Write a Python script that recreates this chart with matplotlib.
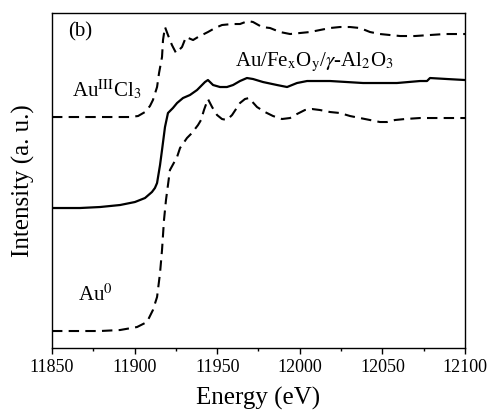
import matplotlib
matplotlib.use("Agg")
from matplotlib import pyplot as plt
from matplotlib.ticker import MultipleLocator

plt.rcParams['font.family'] = ['Liberation Serif', 'DejaVu Serif']
plt.rcParams['mathtext.fontset'] = 'stix'

# Au foil (Au0) reference
e_au0 = [11850, 11879.1, 11891.2, 11901.5, 11907.5, 11911.1, 11913.6, 11915.4, 11916.6,
         11917.8, 11919.0, 11920.2, 11921.4, 11925.7, 11927.5, 11931.7, 11934.7, 11938.4,
         11940.2, 11942.0, 11944.4, 11946.9, 11949.9, 11952.9, 11955.9, 11959.0, 11963.8,
         11966.8, 11969.2, 11974.1, 11978.9, 11983.8, 11989.2, 11994.1, 11998.3, 12003.1,
         12007.4, 12012.2, 12018.3, 12024.3, 12030.4, 12036.4, 12042.5, 12048.5, 12052.8,
         12057.6, 12063.7, 12072.8, 12084.9, 12100]
i_au0 = [17, 17, 18, 21, 26, 38, 51, 75, 98,
         128, 148, 163, 178, 191, 200, 210, 215, 223,
         228, 238, 249, 241, 233, 229, 228, 233, 245,
         249, 250, 241, 236, 232, 229, 230, 234, 238,
         239, 238, 236, 235, 232, 230, 228, 226, 226,
         228, 229, 230, 230, 230]

# Au/FexOy/gamma-Al2O3 sample
e_cat = [11850, 11866.9, 11879.1, 11891.2, 11900.2, 11906.3, 11910.5, 11912.3, 11913.6,
         11915.4, 11916.6, 11918.4, 11920.2, 11923.2, 11925.7, 11929.3, 11933.5, 11937.8,
         11940.8, 11942.6, 11944.4, 11947.5, 11951.7, 11955.9, 11959.6, 11963.8, 11968.0,
         11971.7, 11977.7, 11986.2, 11992.3, 11998.3, 12004.4, 12018.3, 12038.3, 12048.5,
         12058.8, 12072.8, 12077.0, 12078.8, 12089.1, 12100]
i_cat = [140, 140, 141, 143, 146, 150, 156, 160, 165,
         183, 198, 221, 235, 240, 245, 250, 253, 258,
         263, 266, 268, 263, 261, 261, 263, 267, 270,
         269, 266, 263, 261, 265, 267, 267, 265, 265,
         265, 267, 267, 270, 269, 268]

# AuIIICl3 reference
e_cl3 = [11850, 11879.1, 11897.2, 11902.1, 11906.3, 11909.3, 11911.1, 11913.6, 11914.8,
         11916.6, 11917.2, 11918.4, 11920.2, 11922.6, 11925.1, 11928.7, 11931.1, 11935.4,
         11938.4, 11944.4, 11948.7, 11952.9, 11959.0, 11963.8, 11968.6, 11971.7, 11977.1,
         11982.0, 11988.0, 11994.1, 12000.1, 12006.2, 12012.2, 12018.3, 12024.3, 12030.4,
         12036.4, 12042.5, 12048.5, 12054.6, 12060.7, 12069.7, 12078.8, 12087.9, 12100]
i_cl3 = [231, 231, 231, 232, 236, 242, 248, 261, 275,
         291, 308, 321, 313, 303, 295, 301, 311, 308,
         311, 316, 320, 323, 324, 324, 327, 326, 321,
         320, 316, 314, 315, 316, 318, 320, 321, 321,
         320, 316, 314, 313, 312, 312, 313, 314, 314]

fig = plt.figure(figsize=(4.9, 4.12), dpi=100)
ax = fig.add_axes([0.1061, 0.1553, 0.8429, 0.8131])

dash = (0, (5, 3))
ax.plot(e_au0, i_au0, color='black', lw=1.5, linestyle=dash)
ax.plot(e_cat, i_cat, color='black', lw=1.6)
ax.plot(e_cl3, i_cl3, color='black', lw=1.5, linestyle=dash)

ax.set_xlim(11850, 12100)
ax.set_ylim(0, 335)
ax.xaxis.set_major_locator(MultipleLocator(50))
ax.xaxis.set_minor_locator(MultipleLocator(25))
ax.tick_params(axis='x', which='major', direction='out', length=4, width=1, labelsize=13, pad=4)
ax.tick_params(axis='x', which='minor', direction='out', length=2, width=1)
ax.set_yticks([])
for s in ax.spines.values():
    s.set_linewidth(1.0)

ax.set_xlabel('Energy (eV)', fontsize=18, labelpad=8)
ax.set_ylabel('Intensity (a. u.)', fontsize=18, labelpad=12)

ax.text(0.038, 0.945, '(b)', transform=ax.transAxes, fontsize=15, va='center', ha='left')
ax.text(11862, 258, r'Au$^{\mathrm{III}}$Cl$_3$', fontsize=15, ha='left', va='center')
ax.text(11961, 286, r'Au/Fe$_\mathrm{x}$O$_\mathrm{y}$/$\gamma$-Al$_2$O$_3$', fontsize=15, ha='left', va='center')
ax.text(11866, 53, r'Au$^0$', fontsize=15, ha='left', va='center')

fig.savefig('out.png', dpi=100)
